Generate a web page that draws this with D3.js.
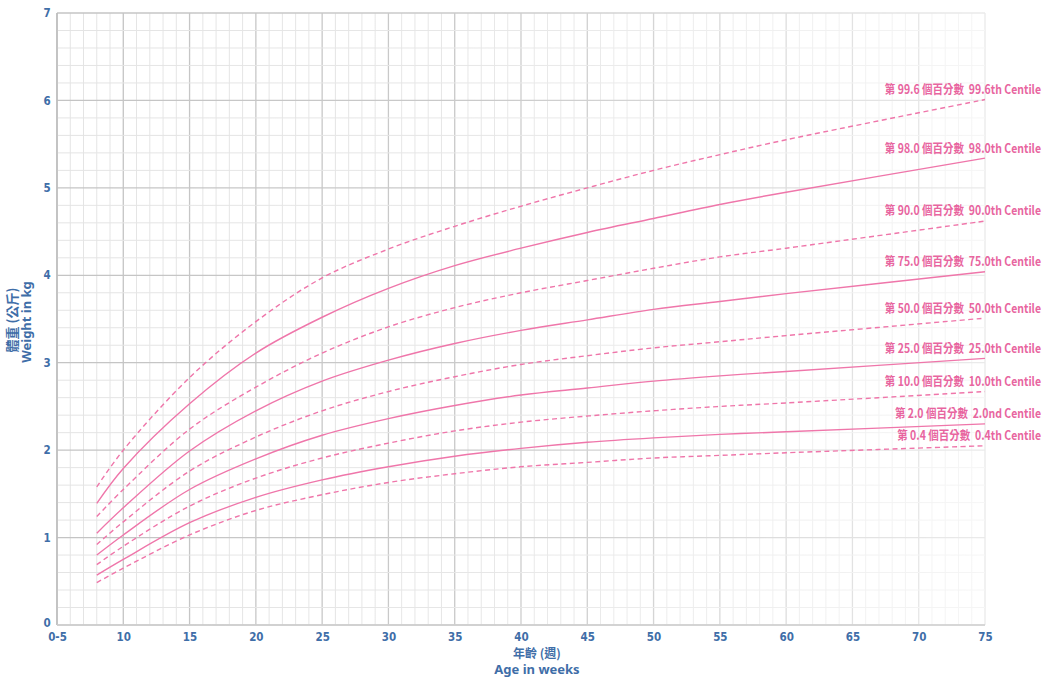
<!DOCTYPE html>
<html><head><meta charset="utf-8">
<script src="https://cdn.jsdelivr.net/npm/d3@7"></script>
<style>body{margin:0;background:#fff}</style>
</head><body>
<svg id="c" width="1047" height="677"></svg>
<script>
// ---- data ----
const weeks = [8, 10, 15, 20, 25, 30, 35, 40, 45, 50, 55, 60, 75];
const p996 = [1.58, 2.00, 2.83, 3.47, 3.97, 4.30, 4.56, 4.79, 5.00, 5.20, 5.38, 5.55, 6.01];
const p980 = [1.39, 1.79, 2.53, 3.11, 3.52, 3.85, 4.11, 4.31, 4.49, 4.65, 4.81, 4.95, 5.34];
const p900 = [1.24, 1.55, 2.24, 2.72, 3.11, 3.41, 3.63, 3.80, 3.94, 4.08, 4.21, 4.31, 4.62];
const p750 = [1.05, 1.34, 1.99, 2.45, 2.79, 3.03, 3.22, 3.37, 3.49, 3.61, 3.70, 3.79, 4.04];
const p500 = [0.92, 1.18, 1.76, 2.15, 2.45, 2.67, 2.84, 2.98, 3.08, 3.17, 3.24, 3.31, 3.51];
const p250 = [0.80, 1.03, 1.55, 1.90, 2.17, 2.36, 2.51, 2.63, 2.71, 2.79, 2.85, 2.90, 3.05];
const p100 = [0.69, 0.90, 1.36, 1.68, 1.91, 2.08, 2.22, 2.32, 2.39, 2.45, 2.50, 2.54, 2.67];
const p020 = [0.57, 0.75, 1.17, 1.46, 1.66, 1.81, 1.93, 2.02, 2.09, 2.14, 2.18, 2.21, 2.30];
const p004 = [0.485, 0.65, 1.03, 1.31, 1.49, 1.63, 1.73, 1.81, 1.86, 1.91, 1.94, 1.97, 2.05];
const seriesValues = [p996, p980, p900, p750, p500, p250, p100, p020, p004];
const zhLabels = ["第 99.6 個百分數", "第 98.0 個百分數", "第 90.0 個百分數", "第 75.0 個百分數", "第 50.0 個百分數", "第 25.0 個百分數", "第 10.0 個百分數", "第 2.0 個百分數", "第 0.4 個百分數"];
const enLabels = ["99.6th Centile", "98.0th Centile", "90.0th Centile", "75.0th Centile", "50.0th Centile", "25.0th Centile", "10.0th Centile", "2.0nd Centile", "0.4th Centile"];
const xTickValues = [5, 10, 15, 20, 25, 30, 35, 40, 45, 50, 55, 60, 65, 70, 75];
const xTickLabels = ["0-5", "10", "15", "20", "25", "30", "35", "40", "45", "50", "55", "60", "65", "70", "75"];
const yTickValues = [0, 1, 2, 3, 4, 5, 6, 7];

// ---- layout ----
const L = 57, R = 985, T = 13, B = 625;
const svg = d3.select("#c");
const x = d3.scaleLinear().domain([5, 75]).range([L, R]);
const y = d3.scaleLinear().domain([0, 7]).range([B, T]);

const tickFont = "'DejaVu Sans Condensed','Liberation Sans Narrow',sans-serif";
const blue = "#3f6ea8";
const pink = "#ef76aa";
const pinkText = "#e8659f";

// fade mask for grid
const defs = svg.append("defs");
const grad = defs.append("linearGradient").attr("id", "fade")
  .attr("gradientUnits", "userSpaceOnUse").attr("x1", L).attr("x2", R).attr("y1", 0).attr("y2", 0);
grad.append("stop").attr("offset", 0).attr("stop-color", "#fff").attr("stop-opacity", 1);
grad.append("stop").attr("offset", 0.45).attr("stop-color", "#fff").attr("stop-opacity", 0.9);
grad.append("stop").attr("offset", 1).attr("stop-color", "#fff").attr("stop-opacity", 0.35);
defs.append("mask").attr("id", "m").append("rect")
  .attr("x", 0).attr("y", 0).attr("width", 1047).attr("height", 677).attr("fill", "url(#fade)");

const grid = svg.append("g").attr("mask", "url(#m)");
const minorX = d3.range(5, 76, 1);
const minorY = d3.range(0, 7.01, 0.2);
grid.selectAll("line.vx").data(minorX).join("line")
  .attr("x1", d => x(d)).attr("x2", d => x(d)).attr("y1", T).attr("y2", B)
  .attr("stroke", d => d % 5 === 0 ? "#c4c4c4" : "#e4e4e4")
  .attr("stroke-width", d => d % 5 === 0 ? 1.3 : 1);
grid.selectAll("line.hy").data(minorY).join("line")
  .attr("y1", d => y(d)).attr("y2", d => y(d)).attr("x1", L).attr("x2", R)
  .attr("stroke", d => Math.abs(d - Math.round(d)) < 1e-6 ? "#c4c4c4" : "#e4e4e4")
  .attr("stroke-width", d => Math.abs(d - Math.round(d)) < 1e-6 ? 1.3 : 1);

// axis lines
svg.append("line").attr("x1", L).attr("x2", L).attr("y1", T).attr("y2", B).attr("stroke", "#bdbdbd").attr("stroke-width", 1.5);
svg.append("line").attr("x1", L).attr("x2", R).attr("y1", B).attr("y2", B).attr("stroke", "#cfcfcf").attr("stroke-width", 1.5);

// x ticks
const xAxis = d3.axisBottom(x).tickValues(xTickValues).tickSize(0).tickPadding(0)
  .tickFormat((d, i) => xTickLabels[i]);
const gx = svg.append("g").attr("transform", `translate(0,${B + 8})`).call(xAxis);
gx.select(".domain").remove();
gx.selectAll("text").attr("fill", blue).attr("font-family", tickFont)
  .attr("font-weight", "bold").attr("font-size", 11.5).attr("dy", "0.71em");

// y ticks
const yAxis = d3.axisLeft(y).tickValues(yTickValues).tickSize(0).tickPadding(0).tickFormat(d3.format("d"));
const gy = svg.append("g").attr("transform", `translate(${L - 6},0)`).call(yAxis);
gy.select(".domain").remove();
gy.selectAll("text").attr("fill", blue).attr("font-family", tickFont)
  .attr("font-weight", "bold").attr("font-size", 11.5).attr("text-anchor", "middle").attr("x", -4)
  .attr("dy", d => d === 0 ? "0.1em" : "0.32em");

// axis titles
const titleFont = "'Noto Sans CJK TC','Noto Sans',sans-serif";
svg.append("text").attr("x", 537).attr("y", 658).attr("text-anchor", "middle")
  .attr("fill", blue).attr("font-family", titleFont).attr("font-weight", "bold").attr("font-size", 12)
  .text("年齡 (週)");
svg.append("text").attr("x", 537).attr("y", 674).attr("text-anchor", "middle")
  .attr("fill", blue).attr("font-family", "'Noto Sans',sans-serif").attr("font-weight", "bold").attr("font-size", 13)
  .text("Age in weeks");
svg.append("text").attr("transform", "translate(17,320) rotate(-90)").attr("text-anchor", "middle")
  .attr("fill", blue).attr("font-family", titleFont).attr("font-weight", "bold").attr("font-size", 13)
  .text("體重 (公斤)");
svg.append("text").attr("transform", "translate(31,322) rotate(-90)").attr("text-anchor", "middle")
  .attr("fill", blue).attr("font-family", "'Noto Sans',sans-serif").attr("font-weight", "bold").attr("font-size", 13)
  .text("Weight in kg");

// curves
const line = d3.line().x((d, i) => x(weeks[i])).y(d => y(d)).curve(d3.curveCatmullRom.alpha(0.5));
const curves = svg.append("g");
seriesValues.forEach((vals, k) => {
  curves.append("path").attr("d", line(vals)).attr("fill", "none")
    .attr("stroke", pink).attr("stroke-width", 1.4)
    .attr("stroke-dasharray", k % 2 === 0 ? "5,3.5" : null);
});

// labels (condensed by a horizontal scale)
seriesValues.forEach((vals, k) => {
  const yy = y(vals[vals.length - 1]) - 10;
  const g = svg.append("g").attr("transform", `translate(1041,${yy}) scale(0.84,1)`);
  const t = g.append("text").attr("x", 0).attr("y", 0).attr("dy", "0.35em")
    .attr("text-anchor", "end").attr("fill", pinkText).attr("font-size", 12.5)
    .attr("font-family", "'Noto Sans CJK TC','DejaVu Sans Condensed',sans-serif").attr("font-weight", "bold")
    .attr("xml:space", "preserve")
    .text(zhLabels[k] + "  " + enLabels[k]);
});
</script>
</body></html>
